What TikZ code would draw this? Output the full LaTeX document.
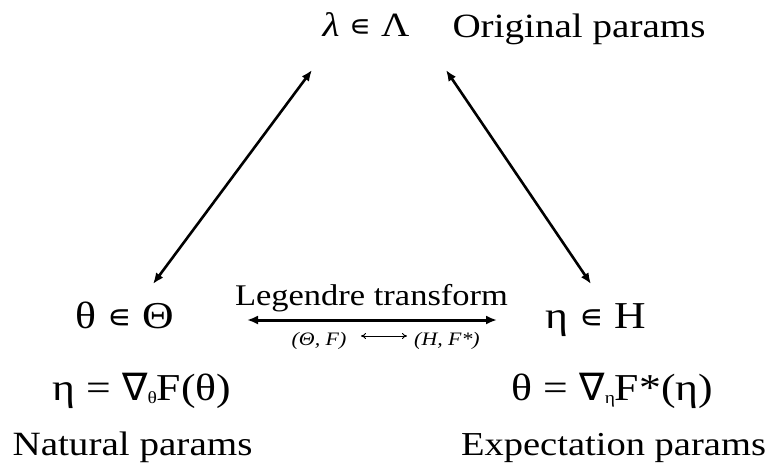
\documentclass[tikz,border=0pt]{standalone}
\usepackage{fontspec}
\setmainfont[FakeStretch=1.15]{Liberation Serif}
\newfontfamily\symfont{DejaVu Sans}
\usetikzlibrary{arrows.meta}
\newcommand{\elm}{{\symfont\fontsize{0.9em}{1em}\selectfont ∊}}
\newcommand{\nab}{{\symfont ∇}}
\newcommand{\lowsub}[1]{\raisebox{-0.1em}{\fontsize{17}{17}\selectfont #1}}
\newcommand{\fs}[1]{\fontsize{#1}{#1}\selectfont}
\begin{document}
\begin{tikzpicture}[x=1pt,y=-1pt,
  lbl/.style={inner sep=0pt,anchor=base},
  big/.style={lbl,font=\fs{38}},
  txt/.style={lbl,font=\fs{34}},
  mid/.style={lbl,font=\fs{30}},
  tiny/.style={lbl,font=\fs{19}\itshape},
  dbl/.style={{Latex[length=11pt,width=9pt]}-{Latex[length=11pt,width=9pt]},line width=2.6pt},
  thin/.style={{To[length=5pt,width=6pt]}-{To[length=5pt,width=6pt]},line width=1pt}]
\useasboundingbox (0,0) rectangle (768,467);
\node[lbl,font=\fs{34}] (lam) at (366,36) {\textit{λ} \elm\ Λ};
\node[txt] (orig) at (579,37) {Original params};
\node[big] (theta) at (125,328) {θ \elm\ Θ};
\node[big] (eta) at (596,328) {η \elm\ H};
\node[big] (g1) at (142,400) {η = \nab\lowsub{θ}F(θ)};
\node[big] (g2) at (612.5,400) {θ = \nab\lowsub{η}F*(η)};
\node[txt] (nat) at (132.5,455) {Natural params};
\node[lbl,font=\fs{33.5}] (exp) at (613.5,455) {Expectation params};
\node[mid] (leg) at (371.5,305) {Legendre transform};
\node[tiny] (s1) at (319,345) {(Θ, F)};
\node[tiny] (s2) at (447,345) {(H, F*)};
\draw[dbl] ([shift={(-54,34)}]lam.base) -- ([shift={(28,-44)}]theta.base);
\draw[dbl] ([shift={(80,34)}]lam.base) -- ([shift={(-5,-44)}]eta.base);
\draw[dbl,line width=3pt] ([shift={(122,-8)}]theta.base) -- ([shift={(-99,-8)}]eta.base);
\draw[thin] ([shift={(42,-9)}]s1.base) -- ([shift={(-40,-9)}]s2.base);
\end{tikzpicture}
\end{document}
